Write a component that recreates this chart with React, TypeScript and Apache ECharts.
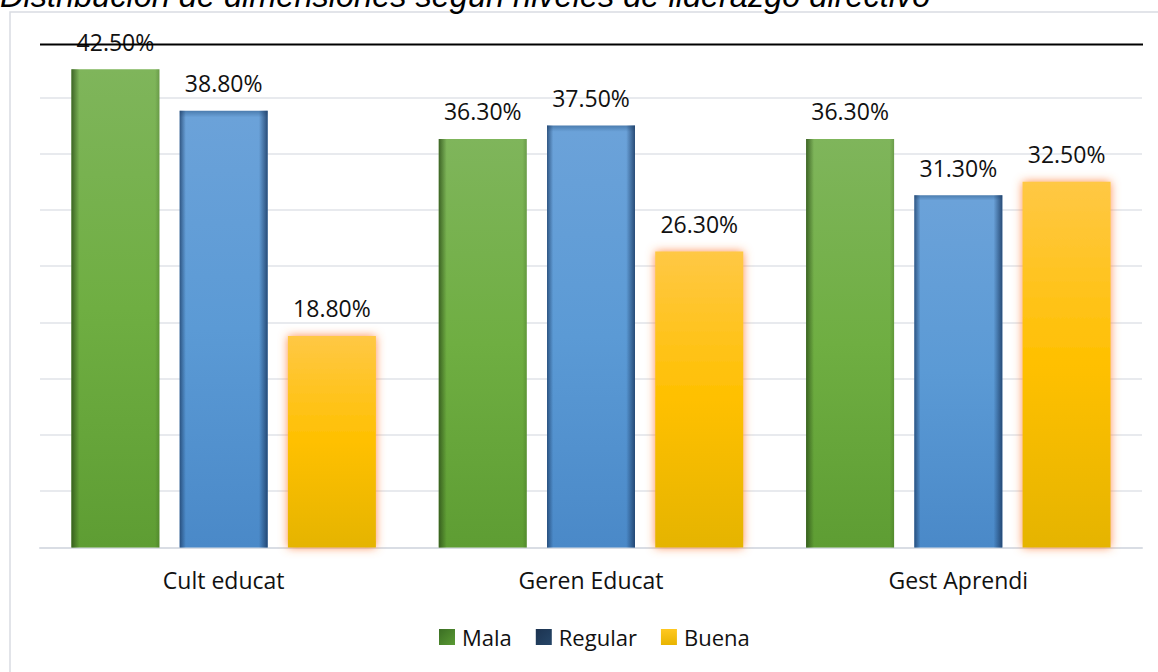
import { useEffect, useRef } from "react";
import * as echarts from "echarts";

const categories = ["Cult educat", "Geren Educat", "Gest Aprendi"];
const seriesNames = ["Mala", "Regular", "Buena"];
const mala = [42.5, 36.3, 36.3];
const regular = [38.8, 37.5, 31.3];
const buena = [18.8, 26.3, 32.5];
const yMin = 0;
const yMax = 45;
const yInterval = 5;
const chartTitle = "Distribución de dimensiones según niveles de liderazgo directivo";

const FONT = "'Open Sans', sans-serif";

const grad = (x2: number, y2: number, stops: [number, string][]) =>
  new echarts.graphic.LinearGradient(
    0,
    0,
    x2,
    y2,
    stops.map(([offset, color]) => ({ offset, color }))
  );

export default function App() {
  const ref = useRef<HTMLDivElement>(null);

  useEffect(() => {
    if (!ref.current) return;
    const chart = echarts.init(ref.current, null, { renderer: "svg" });

    const label = {
      show: true,
      position: "top",
      distance: 16,
      formatter: (p: any) => Number(p.value).toFixed(2) + "%",
      fontSize: 23,
      fontFamily: FONT,
      color: "#111",
    };

    const baseBar = { type: "bar", barWidth: 88, barGap: "23%", xAxisIndex: 0, yAxisIndex: 0 };
    const overlayBar = {
      type: "bar",
      barWidth: 88,
      barGap: "23%",
      xAxisIndex: 1,
      yAxisIndex: 0,
      silent: true,
      z: 3,
    };

    const option: any = {
      animation: false,
      backgroundColor: "#ffffff",
      grid: { left: 40, right: 16, top: 41, bottom: 124.5, containLabel: false },
      legend: {
        left: 434,
        top: 621,
        icon: "rect",
        itemWidth: 16,
        itemHeight: 16,
        itemGap: 24,
        textStyle: { fontSize: 22, fontFamily: FONT, color: "#111", padding: [0, 0, 0, 2] },
        data: [
          { name: seriesNames[0], itemStyle: { color: grad(1, 1, [[0, "#3b6e24"], [1, "#5a9a34"]]) } },
          { name: seriesNames[1], itemStyle: { color: grad(1, 1, [[0, "#1c3350"], [1, "#264668"]]) } },
          { name: seriesNames[2], itemStyle: { color: grad(0, 1, [[0, "#ffc820"], [1, "#e8b400"]]) } },
        ],
      },
      xAxis: [
        {
          type: "category",
          data: categories,
          axisTick: { show: false },
          axisLine: { show: true, lineStyle: { color: "#d9dde4", width: 2 } },
          axisLabel: { fontSize: 23, fontFamily: FONT, color: "#111", margin: 21 },
        },
        { type: "category", data: categories, show: false },
      ],
      yAxis: {
        type: "value",
        min: yMin,
        max: yMax,
        interval: yInterval,
        axisLabel: { show: false },
        axisLine: { show: false },
        axisTick: { show: false },
        splitLine: { show: true, showMaxLine: false, lineStyle: { color: "#e0e3e9", width: 1.5 } },
      },
      series: [
        {
          ...baseBar,
          name: seriesNames[0],
          data: mala,
          label,
          itemStyle: { color: grad(0, 1, [[0, "#7fb55b"], [0.5, "#6fae42"], [1, "#5e9d33"]]) },
        },
        {
          ...baseBar,
          name: seriesNames[1],
          data: regular,
          label,
          itemStyle: {
            color: grad(0, 1, [[0, "#4b7cae"], [0.015, "#6ba2d9"], [0.5, "#5b9ad5"], [1, "#4a89c8"]]),
          },
        },
        {
          ...baseBar,
          name: seriesNames[2],
          data: buena,
          label,
          itemStyle: {
            color: grad(0, 1, [[0, "#ffc845"], [0.5, "#ffc000"], [1, "#e5b400"]]),
            shadowBlur: 10,
            shadowColor: "rgba(255,130,60,0.9)",
          },
        },
        {
          ...overlayBar,
          name: "Mala-borde",
          data: mala,
          itemStyle: {
            color: grad(1, 0, [
              [0, "rgba(45,80,25,0.8)"],
              [0.09, "rgba(45,80,25,0)"],
              [0.95, "rgba(45,80,25,0)"],
              [1, "rgba(45,80,25,0.25)"],
            ]),
          },
        },
        {
          ...overlayBar,
          name: "Regular-borde",
          data: regular,
          itemStyle: {
            color: grad(1, 0, [
              [0, "rgba(25,55,95,0.7)"],
              [0.07, "rgba(25,55,95,0)"],
              [0.9, "rgba(25,55,95,0)"],
              [1, "rgba(25,55,95,0.8)"],
            ]),
          },
        },
        {
          ...overlayBar,
          name: "Buena-borde",
          data: buena,
          itemStyle: { color: "rgba(0,0,0,0)" },
        },
      ],
      graphic: [
        {
          type: "rect",
          z: -10,
          shape: { x: 10, y: 12, width: 1200, height: 720 },
          style: { fill: "none", stroke: "#d9dce2", lineWidth: 1.5 },
        },
        {
          type: "text",
          z: 10,
          x: 0,
          y: -4,
          style: {
            text: chartTitle,
            font: "italic 32.5px 'Liberation Sans', Arial, sans-serif",
            fill: "#000",
            textVerticalAlign: "middle",
            verticalAlign: "middle",
          },
        },
        {
          type: "line",
          z: 10,
          shape: { x1: 40, y1: 44.5, x2: 1143, y2: 44.5 },
          style: { stroke: "#000", lineWidth: 2 },
        },
      ],
    };

    chart.setOption(option);
    return () => chart.dispose();
  }, []);

  return (
    <div
      ref={ref}
      style={{ position: "fixed", left: 0, top: 0, width: 1158, height: 672, background: "#fff" }}
    />
  );
}
